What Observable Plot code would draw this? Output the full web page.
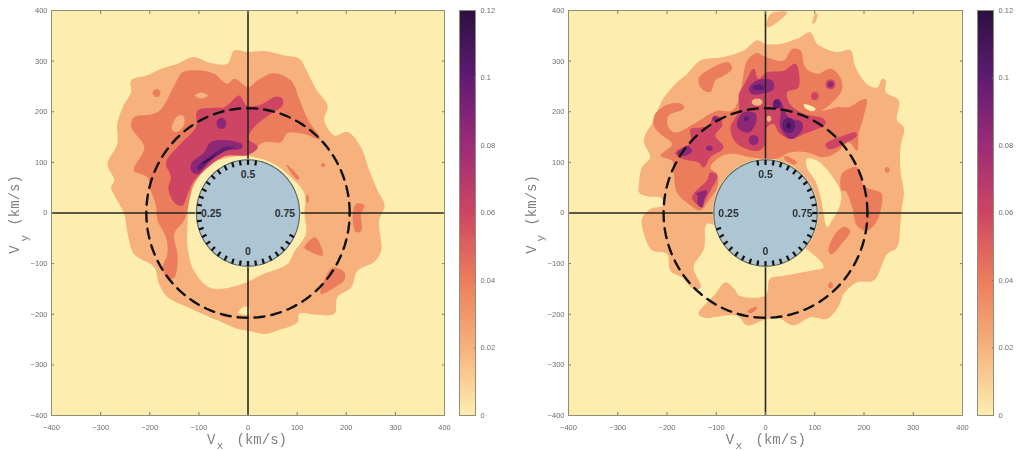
<!DOCTYPE html>
<html><head><meta charset="utf-8">
<script src="https://cdn.jsdelivr.net/npm/d3@7"></script>
<script src="https://cdn.jsdelivr.net/npm/@observablehq/plot@0.6"></script>
<style>
html,body{margin:0;padding:0;background:#fff}
#c{position:relative;width:1016px;height:451px;overflow:hidden;filter:blur(0.5px)}
#c svg{position:absolute;top:0;background:transparent}
</style></head><body><div id="c"></div>
<script>
// colour scale
const colorStops=[0,.02,.04,.06,.08,.1,.12];
const colorRange=["#fdeeb0","#f6b17c","#ec7d5c","#cd4563","#9c2c78","#5f1c72","#2b1040"];
const ticksColor=[0,.02,.04,.06,.08,.1,.12];
const ticksAxis=[-400,-300,-200,-100,0,100,200,300,400];
const RG=.02,RO=.04,RC=.06,RP=.085,RD=.1,RK=.115;
const discR=105, dashR=207;

// LEFT panel contours (Vx,Vy km/s)
const leftOuter=[[-28,321],[0,318],[33,320],[74,311],[104,305],[121,278],[138,245],[162,212],[155,183],[176,153],[203,160],[230,130],[247,84],[264,44],[278,15],[267,-15],[271,-74],[257,-97],[223,-114],[210,-147],[182,-166],[176,-199],[142,-201],[104,-199],[101,-216],[60,-232],[33,-239],[0,-232],[-21,-229],[-62,-212],[-116,-189],[-164,-166],[-181,-140],[-191,-107],[-232,-81],[-245,-41],[-252,-2],[-272,35],[-279,51],[-272,64],[-286,97],[-266,137],[-266,176],[-255,209],[-238,239],[-238,262],[-205,272],[-177,285],[-143,295],[-110,308],[-82,298],[-42,295]];
const leftGap=[[0,112],[47,100],[87,71],[115,38],[115,-2],[118,-41],[94,-77],[81,-100],[33,-120],[-21,-143],[-76,-148],[-110,-114],[-123,-68],[-123,-21],[-120,25],[-116,38],[-99,77],[-69,100],[-35,110]];
const leftNotch=[[-20,-197],[-8,-185],[2,-188],[2,-200]];
const leftMid=[[-28,265],[0,249],[20,262],[50,276],[87,262],[104,226],[121,186],[147,145],[115,156],[81,158],[67,140],[33,140],[16,129],[0,115],[-48,112],[-89,84],[-113,51],[-118,31],[-130,-15],[-150,-41],[-143,-87],[-150,-128],[-162,-130],[-174,-110],[-164,-81],[-167,-48],[-184,-15],[-188,18],[-198,44],[-205,71],[-232,84],[-211,130],[-238,170],[-232,189],[-191,196],[-174,209],[-150,252],[-133,278],[-103,282],[-69,275],[-42,255]];
const leftMidA=[[220,18],[237,15],[230,-2],[231,-35],[220,-38],[213,-8]];
const leftMidB=[[115,-68],[136,-48],[148,-64],[152,-84],[128,-77]];
const leftMidC=[[148,-160],[155,-134],[172,-108],[196,-117],[196,-133],[176,-147]];
const leftMidD=[[78,95],[84,92],[105,68],[100,66]];
const leftHoleA=[[-155,165],[-145,190],[-132,192],[-130,175],[-145,160]];
const leftHoleB=[[-108,232],[-95,238],[-82,232],[-95,226]];
const leftHigh=[[-18,232],[-2,212],[26,214],[57,230],[70,226],[70,212],[47,196],[13,170],[0,147],[20,130],[0,115],[-48,112],[-89,84],[-110,64],[-120,44],[-123,38],[-133,15],[-147,18],[-160,38],[-162,51],[-157,71],[-167,100],[-137,137],[-106,170],[-103,202],[-69,208],[-48,209],[-35,219]];
const leftPurple=[[-116,97],[-89,120],[-76,140],[-48,144],[-11,135],[-14,127],[-48,122],[-79,100],[-103,77],[-114,81]];
const leftDark=[[-103,90],[-76,113],[-48,130],[-28,130],[-48,122],[-79,102],[-99,84]];
const leftBlack=[[-96,97],[-65,115],[-85,100]];
// spots: level, x, y, rx, ry
const leftSpots=[[RO,-186,237,8,8],[RO,153,95,4,4],[RO,121,28,3,8]];
const leftSpotsAbove=[[RP,-54,177,10,11]];

// RIGHT panel contours
const rightOuter=[[-17,341],[0,334],[30,334],[64,344],[91,357],[105,334],[145,318],[172,322],[183,288],[206,255],[227,248],[237,265],[244,262],[244,239],[271,222],[267,183],[281,169],[274,130],[274,84],[281,38],[277,12],[274,-21],[267,-68],[247,-81],[220,-133],[186,-137],[159,-160],[149,-183],[125,-209],[91,-206],[57,-222],[23,-206],[0,-210],[-37,-222],[-58,-203],[-125,-207],[-136,-199],[-102,-160],[-81,-137],[-61,-153],[-54,-163],[0,-163],[9,-130],[37,-124],[91,-114],[118,-107],[91,-77],[3,-35],[-92,-28],[-119,-21],[-125,-71],[-146,-107],[-131,-147],[-146,-150],[-169,-128],[-193,-114],[-200,-81],[-230,-74],[-247,-41],[-251,-12],[-234,8],[-207,15],[-213,30],[-241,33],[-257,41],[-257,57],[-251,90],[-234,110],[-247,143],[-227,183],[-210,222],[-186,252],[-159,275],[-132,301],[-85,308],[-44,321]];
const rightTopA=[[3,367],[10,393],[44,397],[24,377]];
const rightTopB=[[95,374],[101,393],[106,393],[101,377]];
const rightCrescent=[[84,107],[105,103],[132,77],[152,44],[152,18],[135,-15],[125,-28],[118,-2],[112,31],[101,64],[84,90]];
const rightMid=[[-37,301],[-17,316],[0,308],[37,301],[54,324],[71,321],[81,288],[105,275],[132,285],[152,268],[155,242],[132,215],[115,202],[145,209],[169,209],[193,222],[205,225],[199,189],[189,156],[186,123],[169,140],[145,120],[118,110],[84,120],[51,120],[23,107],[0,107],[-31,110],[-65,117],[-88,113],[-112,90],[-98,77],[-98,51],[-115,25],[-132,5],[-152,15],[-180,41],[-186,77],[-190,103],[-213,113],[-190,136],[-213,156],[-227,173],[-224,196],[-197,215],[-169,215],[-166,206],[-197,192],[-197,169],[-183,159],[-146,176],[-98,202],[-68,202],[-54,225],[-48,252]];
const rightMidA=[[155,77],[186,90],[200,54],[233,41],[237,35],[227,-15],[206,-35],[186,-25],[176,12],[162,44],[155,44]];
const rightMidB=[[-136,265],[-112,285],[-75,298],[-68,285],[-85,271],[-102,262],[-112,239],[-129,245]];
const rightMidC=[[128,-77],[139,-45],[159,-27],[172,-35],[152,-64],[135,-81]];
const rightMidD=[[-37,-194],[-17,-185],[-20,-192],[-32,-198]];
const rightMidE=[[40,113],[64,100],[58,96],[38,107]];
const rightHigh=[[-24,285],[-14,265],[3,278],[37,281],[61,295],[67,248],[44,239],[50,215],[78,196],[118,186],[122,176],[78,156],[51,146],[27,159],[17,176],[3,169],[0,136],[-14,123],[-37,126],[-61,140],[-71,169],[-54,202],[-54,235],[-41,258]];
const rightHighA=[[-183,120],[-152,140],[-152,166],[-132,169],[-115,173],[-105,192],[-92,189],[-88,173],[-102,153],[-85,130],[-112,110],[-125,90],[-136,100],[-152,103],[-176,110]];
const rightHighB=[[-146,38],[-119,64],[-112,80],[-98,74],[-112,44],[-122,25],[-129,11],[-149,28]];
const rightHighC=[[122,136],[159,153],[183,159],[186,153],[152,133],[128,126]];
const rightPurpleA=[[-34,245],[-17,262],[13,262],[17,245],[-10,235],[-27,235]];
const rightPurpleB=[[17,222],[27,225],[47,189],[74,179],[74,163],[51,146],[30,169],[30,202]];
const rightPurpleC=[[-58,179],[-44,199],[-20,196],[-20,176],[-34,159],[-54,166]];
const rightPurpleD=[[-180,117],[-159,133],[-149,123],[-163,113]];
const rightPurpleE=[[-142,38],[-119,44],[-125,25],[-129,11],[-138,18],[-138,34]];
const rightSlit=[[78,215],[102,206],[96,201],[80,208]];
const rightSpotsBelow=[[RO,247,85,5,6],[RO,132,-143,5,6]];
const rightSpotsAbove=[[RG,-17,219,11,7],[RG,7,186,5,6],[RC,132,254,10,10],[RC,100,231,8,8],[RP,-24,144,10,10],[RP,-114,128,7,5],[RP,-102,186,6,5],[RP,132,254,6,6],[RD,47,173,13,15],[RD,23,215,8,9],[RD,-14,248,12,6],[RD,-39,186,5,5],[RK,47,173,5,6]];

const tickPhasesLeft=d3.range(0,.54,.025).concat(d3.range(.825,1,.025));
const tickPhasesRight=d3.range(.475,1,.025).concat(d3.range(0,.21,.025));

function ell(cx,cy,rx,ry){return d3.range(0,360,30).map(a=>[cx+rx*Math.cos(a*Math.PI/180),cy+ry*Math.sin(a*Math.PI/180)]);}
function rows(layers){const out=[];layers.forEach((l,i)=>l[1].forEach(p=>out.push({id:i,level:l[0],x:p[0],y:p[1]})));return out;}
function sp(list){return list.map(s=>[s[0],ell(s[1],s[2],s[3],s[4])]);}
const circle=r=>d3.range(0,361,3).map(a=>({x:r*Math.cos(a*Math.PI/180),y:r*Math.sin(a*Math.PI/180)}));

const colorOpt={type:"linear",domain:colorStops,range:colorRange};
const labelFont="'Liberation Mono','DejaVu Sans Mono',monospace";

function panel(layers,phases,width,marginRight,left,ox){
  const ticks=phases.map(p=>{const a=2*Math.PI*p;const s=Math.sin(a),c=Math.cos(a);
    return {x1:-discR*s,y1:-discR*c,x2:-(discR-10)*s,y2:-(discR-10)*c};});
  const txt=(t,x,y,o={})=>Plot.text([t],{x:()=>x,y:()=>y,text:d=>d,fill:"#808080",fontSize:14,fontFamily:labelFont,...o});
  const tick=(o)=>({ticks:ticksAxis,stroke:"#777",fontSize:7.5,fill:"#6c6c6c",fontFamily:"'Liberation Sans',Arial,sans-serif",label:null,...o});
  const fig=Plot.plot({width,height:451,marginLeft:51,marginRight,marginTop:10,marginBottom:36,
    style:{background:"transparent",overflow:"visible"},
    x:{domain:[-400,400]},y:{domain:[-400,400]},color:colorOpt,
    marks:[
      Plot.frame({fill:colorRange[0],stroke:"none"}),
      Plot.line(rows(layers),{x:"x",y:"y",z:"id",fill:"level",stroke:"none",curve:"catmull-rom-closed"}),
      Plot.ruleX([0],{y1:-400,y2:400,stroke:"#262620",strokeWidth:1.6}),
      Plot.ruleY([0],{x1:-400,x2:400,stroke:"#262620",strokeWidth:1.6}),
      Plot.line(circle(dashR),{x:"x",y:"y",stroke:"#111",strokeWidth:2.4,strokeDasharray:"10,7",curve:"linear"}),
      Plot.line(circle(discR+2),{x:"x",y:"y",fill:"#fff6c8",stroke:"none",curve:"linear"}),
      Plot.line(circle(discR),{x:"x",y:"y",fill:"#aec6d3",stroke:"#5f6a60",strokeWidth:1.2,curve:"linear"}),
      Plot.link(ticks,{x1:"x1",y1:"y1",x2:"x2",y2:"y2",stroke:"#111",strokeWidth:2.2}),
      Plot.text(["0.5","0","0.25","0.75"],{x:[0,0,-75,75],y:[75,-76,-2,-2],text:d=>d,fontSize:10.5,fontWeight:"bold",fill:"#2e3133",fontFamily:"'Liberation Sans',Arial,sans-serif"}),
      Plot.axisX(tick({anchor:"bottom",tickSize:-3,tickPadding:12})),
      Plot.axisX(tick({anchor:"top",tickSize:-3,tickFormat:()=>""})),
      Plot.axisY(tick({anchor:"left",tickSize:-3,tickPadding:7})),
      Plot.axisY(tick({anchor:"right",tickSize:-3,tickFormat:()=>""})),
      Plot.frame({stroke:"#8f8f78",strokeWidth:1}),
      txt("V",ox-75,-448),txt("x",ox-57,-459,{fontSize:11}),txt("(km/s)",ox+28,-448),
      txt("V",-476,-72,{rotate:-90}),txt("y",-456,-50,{rotate:-90,fontSize:11}),txt("(km/s)",-476,25,{rotate:-90})
    ]});
  fig.style.left=left+"px";
  return fig;
}
function bar(left){
  const steps=d3.range(0,.12,.001);
  const fig=Plot.plot({width:60,height:451,marginLeft:10,marginRight:34,marginTop:10,marginBottom:36,
    style:{background:"transparent"},
    x:{domain:[0,1],axis:null},y:{domain:[0,.12]},color:colorOpt,
    marks:[
      Plot.rect(steps,{x1:()=>0,x2:()=>1,y1:d=>d,y2:d=>Math.min(.12,d+.0016),fill:d=>d+.0005,inset:0}),
      Plot.axisY({anchor:"right",ticks:ticksColor,tickFormat:d=>String(+d.toFixed(2)),tickSize:-2,tickPadding:7,fontSize:7.5,fill:"#6c6c6c",stroke:"#777",label:null,fontFamily:"'Liberation Sans',Arial,sans-serif"}),
      Plot.frame({stroke:"#8f8f78",strokeWidth:1})
    ]});
  fig.style.left=left+"px";
  return fig;
}

const leftLayers=[[RG,leftOuter],[0,leftGap],[0,leftNotch],[RO,leftMid],[RO,leftMidA],[RO,leftMidB],[RO,leftMidC],[RO,leftMidD],[RG,leftHoleA],[RG,leftHoleB],...sp(leftSpots),[RC,leftHigh],[RP,leftPurple],[RD,leftDark],[RK,leftBlack],...sp(leftSpotsAbove)];
const rightLayers=[[RG,rightOuter],[RG,rightTopA],[RG,rightTopB],[0,rightCrescent],[RO,rightMid],[RO,rightMidA],[RO,rightMidB],[RO,rightMidC],[RO,rightMidD],[RO,rightMidE],...sp(rightSpotsBelow),[RC,rightHigh],[RC,rightHighA],[RC,rightHighB],[RC,rightHighC],[RP,rightPurpleA],[RP,rightPurpleB],[RP,rightPurpleC],[RP,rightPurpleD],[RP,rightPurpleE],[0,rightSlit],...sp(rightSpotsAbove)];

const c=document.getElementById("c");
c.append(panel(leftLayers,tickPhasesLeft,508,64,0,0));
c.append(bar(449));
c.append(panel(rightLayers,tickPhasesRight,499,54,517,3));
c.append(bar(967));
</script></body></html>
